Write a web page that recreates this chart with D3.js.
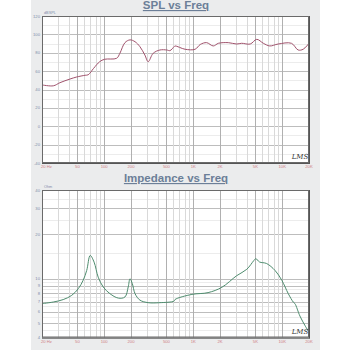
<!DOCTYPE html>
<html>
<head>
<meta charset="utf-8">
<script src="https://cdn.jsdelivr.net/npm/d3@7"></script>
<style>
  html, body { margin: 0; padding: 0; background: #ffffff; }
  svg { display: block; }
</style>
</head>
<body>
<svg id="chart" width="350" height="350"></svg>
<script>
// Frequency ticks shared by both panels
const freqTicks = [20, 50, 100, 200, 500, 1000, 2000, 5000, 10000, 20000];
const freqTickLabels = ["20 Hz", "50", "100", "200", "500", "1K", "2K", "5K", "10K", "20K"];

// SPL response (Hz, dB SPL)
const splFreq = [20, 26.8, 31.8, 41.3, 49, 61, 66, 76, 89, 101, 138, 150, 171, 195, 222, 252, 286, 312, 355, 423, 505, 548, 610,
  625, 810, 1050, 1200, 1415, 1680, 1920, 2480, 3080, 3500, 4370, 5180, 6140, 7250, 9000, 12700, 15100, 17200, 20000];
const splDb = [45, 44, 47.4, 51.4, 53.6, 55.5, 56, 63, 70.3, 72.9, 74, 79.4, 91, 94, 92, 86.6, 77.6, 70.3, 79.4, 83, 83, 82.3, 86.6,
  87.4, 83.8, 83.8, 89, 91, 87.4, 90.3, 91, 89.5, 90.3, 89.5, 94.6, 90.3, 87.4, 89.5, 90.3, 83, 83.8, 90.3];
const splTicks = [120, 100, 80, 60, 40, 20, 0, -20, -40];
const splMinor = [110, 90, 70, 50, 30, 10, -10, -30];

// Impedance (Hz, ohm)
const impFreq = [20, 26.8, 34.6, 43.1, 51.2, 58, 63.6, 69.6, 77, 85.6, 97.5, 116, 144, 171, 186, 195, 207, 222, 252, 312, 423, 610,
  625, 967, 1470, 2100, 3080, 4000, 4800, 5050, 5560, 6670, 8300, 9900, 11700, 13300, 13900, 15800, 18100, 20000];
const impOhm = [6.79, 6.96, 7.23, 7.72, 8.58, 9.77, 11.4, 14.4, 12.97, 10.26, 8.8, 7.93, 7.4, 7.53, 8.8, 10.02, 9.26, 7.93, 7.17, 6.89, 6.89, 7.06,
  7.24, 7.84, 8.06, 8.76, 10.5, 11.6, 13.3, 13.7, 13, 12.7, 11.4, 9.77, 7.93, 6.96, 6.79, 5.6, 4.8, 4.35];
const impTicks = [40, 30, 20, 10, 9, 8, 7, 6, 5, 4];
const impMinor = [35, 25, 15, 9.5, 8.5, 7.5, 6.5, 5.5, 4.5];

const svg = d3.select("#chart");
const titleColor = "#6c7f98";
const yLabelColor = "#7e8dab";
const xLabelColor = "#cf7f86";

// light grey backdrop behind both panels
svg.append("rect").attr("x", 31).attr("y", 0).attr("width", 289).attr("height", 350).attr("fill", "#ebeced");

const x = d3.scaleLog().domain([20, 20000]).range([42, 309]);
const minorFreq = [];
[10, 100, 1000, 10000].forEach(dec => {
  for (let k = 1; k <= 9; k++) {
    const f = dec * k;
    if (f > 20 && f < 20000 && !freqTicks.includes(f)) minorFreq.push(f);
  }
});

function panel(opts) {
  const { y, top, bottom, title, titleY, unit, ticks, minor, fmt, xs, ys, color, logoY } = opts;
  const g = svg.append("g");
  g.append("rect").attr("x", 42).attr("y", top).attr("width", 267).attr("height", bottom - top).attr("fill", "#ffffff");

  // horizontal grid
  g.selectAll(".hmin").data(minor).join("line")
    .attr("x1", 42).attr("x2", 309).attr("y1", d => Math.round(y(d)) + 0.5).attr("y2", d => Math.round(y(d)) + 0.5)
    .attr("stroke", "#ececec").attr("stroke-width", 1);
  g.selectAll(".hmaj").data(ticks).join("line")
    .attr("x1", 42).attr("x2", 309).attr("y1", d => Math.round(y(d)) + 0.5).attr("y2", d => Math.round(y(d)) + 0.5)
    .attr("stroke", "#bdbdbd").attr("stroke-width", 1);

  // vertical grid
  g.selectAll(".vmin").data(minorFreq).join("line")
    .attr("y1", top).attr("y2", bottom).attr("x1", d => Math.round(x(d)) + 0.5).attr("x2", d => Math.round(x(d)) + 0.5)
    .attr("stroke", "#d9d9d9").attr("stroke-width", 1);
  g.selectAll(".vmaj").data(freqTicks).join("line")
    .attr("y1", top).attr("y2", bottom).attr("x1", d => Math.round(x(d)) + 0.5).attr("x2", d => Math.round(x(d)) + 0.5)
    .attr("stroke", "#b0b0b0").attr("stroke-width", 1);

  // response curve
  const line = d3.line().x((d, i) => x(xs[i])).y((d, i) => y(ys[i])).curve(d3.curveCatmullRom.alpha(0.5));
  g.append("path").datum(xs).attr("d", line).attr("fill", "none").attr("stroke", color).attr("stroke-width", 1);

  // frame
  g.append("rect").attr("x", 42.5).attr("y", top + 0.5).attr("width", 266).attr("height", bottom - top - 1)
    .attr("fill", "none").attr("stroke", "#6a6a6a").attr("stroke-width", 1);
  g.append("line").attr("x1", 309.5).attr("x2", 309.5).attr("y1", top).attr("y2", bottom + 1).attr("stroke", "#555").attr("stroke-width", 1);
  g.append("line").attr("x1", 42).attr("x2", 310).attr("y1", bottom + 0.5).attr("y2", bottom + 0.5).attr("stroke", "#555").attr("stroke-width", 1);

  // y tick labels
  g.selectAll(".ylab").data(ticks).join("text")
    .attr("x", 40).attr("y", d => y(d) + 1.5).attr("text-anchor", "end")
    .attr("font-family", "Liberation Sans, Arial, sans-serif").attr("font-size", 4.2).attr("fill", yLabelColor)
    .text(fmt);
  g.append("text").attr("x", 44).attr("y", top - 2).attr("font-family", "Liberation Sans, Arial, sans-serif")
    .attr("font-size", 3.8).attr("fill", yLabelColor).text(unit);

  // x tick labels
  g.selectAll(".xlab").data(freqTicks).join("text")
    .attr("x", (d, i) => i === 0 ? x(d) - 1 : x(d)).attr("y", bottom + 5)
    .attr("text-anchor", (d, i) => i === 0 ? "start" : "middle")
    .attr("font-family", "Liberation Sans, Arial, sans-serif").attr("font-size", 4.2).attr("fill", xLabelColor)
    .text((d, i) => freqTickLabels[i]);

  // title
  g.append("text").attr("x", 176).attr("y", titleY).attr("text-anchor", "middle")
    .attr("font-family", "Liberation Sans, Arial, sans-serif").attr("font-weight", "bold").attr("font-size", 11.5)
    .attr("fill", titleColor).attr("text-decoration", "underline").text(title);

  // maker mark
  g.append("text").attr("x", 300).attr("y", logoY).attr("text-anchor", "middle")
    .attr("font-family", "DejaVu Serif, serif").attr("font-style", "italic").attr("font-size", 7)
    .attr("fill", "#333").text("LMS");
}

panel({
  y: d3.scaleLinear().domain([-40, 120]).range([163, 16]),
  top: 16, bottom: 163, title: "SPL vs Freq", titleY: 9, unit: "dBSPL",
  ticks: splTicks, minor: splMinor, fmt: d => String(d),
  xs: splFreq, ys: splDb, color: "#a0526c", logoY: 159
});

panel({
  y: d3.scaleLog().domain([4, 40]).range([337.5, 190]),
  top: 190, bottom: 337.5, title: "Impedance vs Freq", titleY: 182, unit: "Ohm",
  ticks: impTicks, minor: impMinor, fmt: d => String(d),
  xs: impFreq, ys: impOhm, color: "#4e8c6e", logoY: 334
});
</script>
</body>
</html>
